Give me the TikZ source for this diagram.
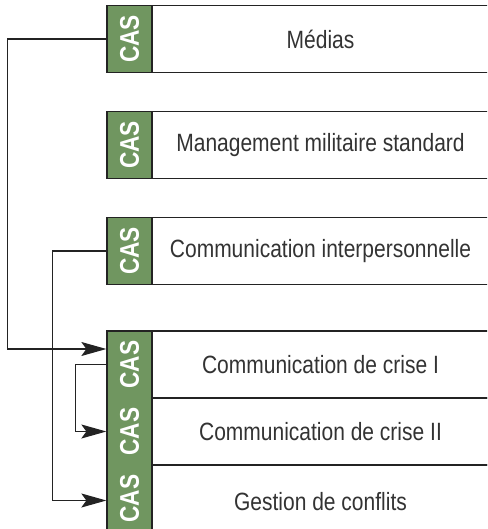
\documentclass[tikz,border=0pt]{standalone}
\usepackage{fontspec}
\setmainfont[FakeStretch=0.84]{Liberation Sans}
\usetikzlibrary{arrows.meta}

\definecolor{casgreen}{RGB}{112,150,96}
\definecolor{linegray}{RGB}{35,35,35}

\tikzset{
  tag/.style={draw=linegray, fill=casgreen, line width=1.3pt, minimum width=45pt,
    minimum height=67pt, inner sep=0pt, text=white,
    font=\fontsize{27}{27}\selectfont\bfseries},
  labelbox/.style={draw=linegray, line width=1.3pt, minimum width=337pt,
    minimum height=67pt, inner sep=0pt, text=black!80,
    font=\fontsize{25}{25}\selectfont},
  conn/.style={draw=linegray, line width=1.2pt,
    -{Stealth[length=25pt,width=14pt,inset=5pt]}}
}

\begin{document}
\begin{tikzpicture}[x=1pt,y=-1pt]
  \clip (0,0) rectangle (487,529);

  \node[labelbox] (lab1) at (320.5,39) {Médias};
  \node[tag] (cas1) at (129.5,39) {\rotatebox{90}{CAS}};

  \node[labelbox] (lab2) at (320.5,145) {Management militaire standard};
  \node[tag] (cas2) at (129.5,145) {\rotatebox{90}{CAS}};

  \node[labelbox] (lab3) at (320.5,251) {Communication interpersonnelle};
  \node[tag] (cas3) at (129.5,251) {\rotatebox{90}{CAS}};

  \node[labelbox] (lab4) at (320.5,364.5) {Communication de crise I};
  \node[labelbox] (lab5) at (320.5,431.5) {Communication de crise II};
  \node[labelbox, minimum height=73pt] (lab6) at (320.5,501.5) {Gestion de conflits};
  \fill[casgreen] (107,331) rectangle (152,538);
  \draw[draw=linegray, line width=1.3pt] (107,538) -- (107,331) -- (152,331) -- (152,538);
  \node[tag, draw=none, fill=none] (cas4) at (129.5,364.5) {\rotatebox{90}{CAS}};
  \node[tag, draw=none, fill=none] (cas5) at (129.5,431.5) {\rotatebox{90}{CAS}};
  \node[tag, draw=none, fill=none] (cas6) at (129.5,498.5) {\rotatebox{90}{CAS}};

  \draw[conn] (cas1.west) -- ++(-99,0) |- ([yshift=15.5pt]cas4.west);
  \draw[conn] (cas3.west) -- ++(-54,0) |- ([yshift=-2pt]cas6.west);
  \draw[conn] (cas4.west) -- ++(-31,0) |- (cas5.west);
\end{tikzpicture}
\end{document}
